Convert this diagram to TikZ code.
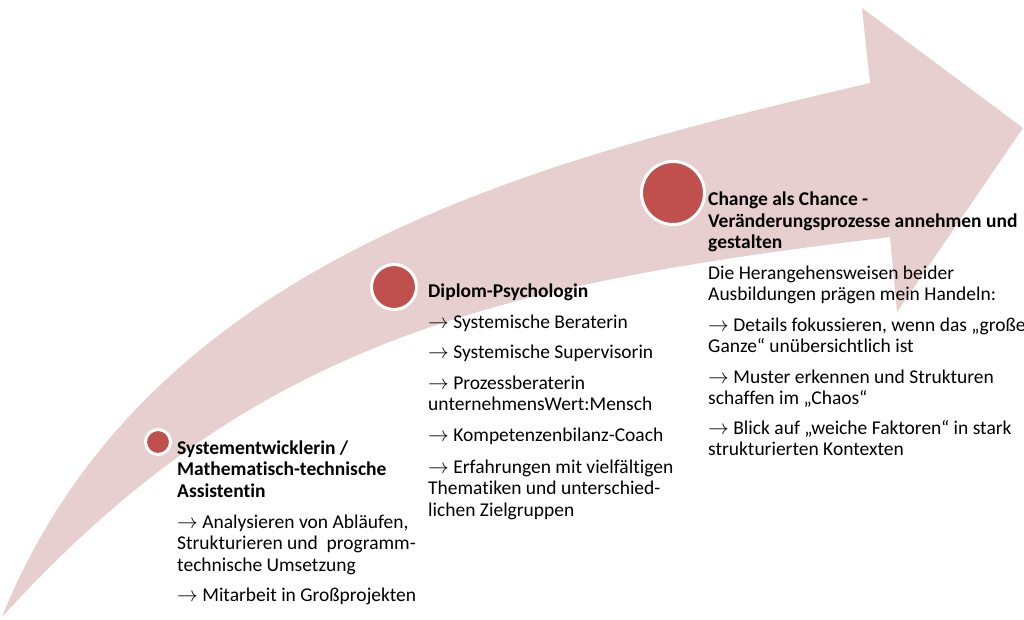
\documentclass[tikz,border=0pt]{standalone}
\usepackage{fontspec}
\setmainfont{Carlito}[Ligatures={NoCommon}]
\definecolor{band}{RGB}{231,207,208}
\definecolor{dot}{RGB}{192,80,77}
\newcommand\lns[1]{\vtop{\baselineskip=21.5pt\lineskip=0pt\lineskiplimit=-100pt\halign{##\hfil\cr#1\crcr}}}
\newcommand\ra{$\rightarrow$\ }
\tikzset{
  txt/.style={anchor=base west, inner sep=0pt, font=\fontsize{19.5}{21.5}\selectfont},
  dotc/.style={circle, fill=dot, draw=white, line width=3pt, inner sep=0pt}
}
\begin{document}
\begin{tikzpicture}[x=1pt,y=-1pt]
\useasboundingbox (0,0) rectangle (1024,620);
% curved arrow
\fill[band] (2,617) .. controls (150,250) and (556,157) .. (870,83)
  -- (862,8) -- (1023,128) -- (897,312) -- (890,237)
  .. controls (490,285) and (252,342) .. (2,617) -- cycle;
% dots
\node[dotc, minimum size=25pt] (c1) at (158,442) {};
\node[dotc, minimum size=45pt] (c2) at (394,287) {};
\node[dotc, minimum size=63pt] (c3) at (673,193) {};
% block 1
\node[txt] (a1) at (177,454) {\lns{\textbf{Systementwicklerin /}\cr\textbf{Mathematisch-technische}\cr\textbf{Assistentin}}};
\node[txt] (a2) at (177,528) {\lns{\ra Analysieren von Abläufen,\cr Strukturieren und\ \ programm-\cr technische Umsetzung}};
\node[txt] (a3) at (177,601) {\lns{\ra Mitarbeit in Großprojekten}};
% block 2
\node[txt] (b1) at (428,297) {\lns{\textbf{Diplom-Psychologin}}};
\node[txt] (b2) at (428,328) {\lns{\ra Systemische Beraterin}};
\node[txt] (b3) at (428,358) {\lns{\ra Systemische Supervisorin}};
\node[txt] (b4) at (428,389) {\lns{\ra Prozessberaterin\cr unternehmensWert:Mensch}};
\node[txt] (b5) at (428,441) {\lns{\ra Kompetenzenbilanz-Coach}};
\node[txt] (b6) at (428,473) {\lns{\ra Erfahrungen mit vielfältigen\cr Thematiken und unterschied-\cr lichen Zielgruppen}};
% block 3
\node[txt] (d1) at (708,206) {\lns{\textbf{Change als Chance -}\cr\textbf{Veränderungsprozesse annehmen und}\cr\textbf{gestalten}}};
\node[txt] (d2) at (708,279) {\lns{Die Herangehensweisen beider\cr Ausbildungen prägen mein Handeln:}};
\node[txt] (d3) at (708,331) {\lns{\ra Details fokussieren, wenn das „große\cr Ganze“ unübersichtlich ist}};
\node[txt] (d4) at (708,383) {\lns{\ra Muster erkennen und Strukturen\cr schaffen im „Chaos“}};
\node[txt] (d5) at (708,434) {\lns{\ra Blick auf „weiche Faktoren“ in stark\cr strukturierten Kontexten}};
\end{tikzpicture}
\end{document}
